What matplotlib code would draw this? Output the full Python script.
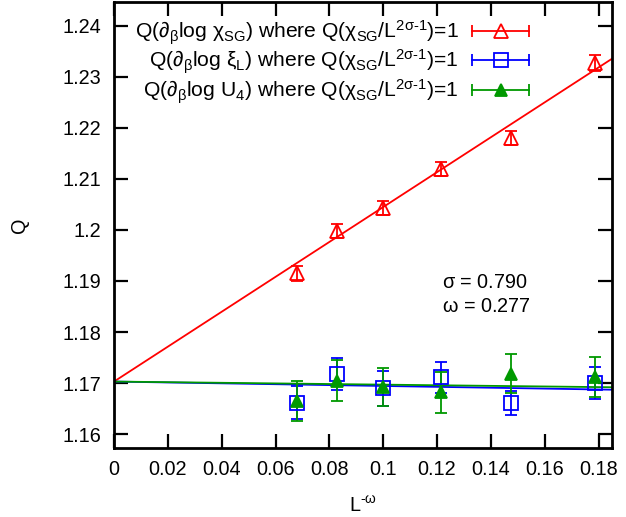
import matplotlib
matplotlib.use("Agg")
import matplotlib.pyplot as plt
from matplotlib.lines import Line2D
from matplotlib.legend_handler import HandlerLine2D, HandlerTuple
import numpy as np

plt.rcParams["font.family"] = ["Liberation Sans", "DejaVu Sans"]
plt.rcParams["mathtext.fontset"] = "custom"
plt.rcParams["mathtext.rm"] = "Liberation Sans"
plt.rcParams["mathtext.it"] = "Liberation Sans"
plt.rcParams["mathtext.sf"] = "Liberation Sans"
plt.rcParams["mathtext.bf"] = "Liberation Sans:bold"

# data
x = [0.0680, 0.0829, 0.1000, 0.1216, 0.1476, 0.1788]

q_chi = [1.1915, 1.1998, 1.2043, 1.2119, 1.2180, 1.2327]
q_chi_err = [0.0015, 0.0014, 0.0013, 0.0014, 0.0014, 0.0016]

q_xi = [1.1662, 1.1718, 1.1690, 1.1711, 1.1661, 1.1700]
q_xi_err = [0.0033, 0.0031, 0.0034, 0.0030, 0.0023, 0.0032]

q_u4 = [1.1665, 1.1705, 1.1692, 1.1682, 1.1718, 1.1712]
q_u4_err = [0.0039, 0.0040, 0.0037, 0.0040, 0.0038, 0.0039]

# fit lines (intercept, slope)
fit_chi = (1.1703, 0.3416)
fit_xi = (1.1703, -0.0086)
fit_u4 = (1.1703, -0.0060)

xlim = (0, 0.185)
ylim = (1.1573, 1.2446)

lab = r"where Q($\chi_{SG}$/L$^{2\sigma\text{-}1}$)=1"
labels = [r"Q($\partial_\beta$log $\chi_{SG}$) " + lab,
          r"Q($\partial_\beta$log $\xi_L$) " + lab,
          r"Q($\partial_\beta$log U$_4$) " + lab]

fig = plt.figure(figsize=(6.26, 5.17), dpi=100)
ax = fig.add_axes([0.1821, 0.1335, 0.7955, 0.8626])

fs = 14.3
xx = np.array(xlim)
series = [
    (q_chi, q_chi_err, fit_chi, "#ff0000", "^", "none", 10),
    (q_xi, q_xi_err, fit_xi, "#0000ff", "s", "none", 10),
    (q_u4, q_u4_err, fit_u4, "#009900", "^", "#009900", 8),
]
handles = []
hmap = {}
for (y, e, fit, c, m, mfc, ms) in series:
    ax.plot(xx, fit[0] + fit[1] * xx, color=c, lw=1.3, zorder=2)
    ax.errorbar(x, y, yerr=e, fmt=m, color=c, mfc=mfc, mec=c, ms=ms,
                mew=1.3, elinewidth=1.3, capsize=4, capthick=1.3, zorder=3)
    caps = Line2D([], [], color=c, lw=1.3, marker="|", ms=8, mew=1.3)
    mk = Line2D([], [], color=c, ls="none", marker=m, mfc=mfc, mec=c, ms=ms, mew=1.3)
    hmap[caps] = HandlerLine2D(numpoints=2, marker_pad=0)
    handles.append((caps, mk))

hmap[tuple] = HandlerTuple(ndivide=1, pad=0)
ax.legend(handles, labels, handler_map=hmap, markerfirst=False, frameon=False,
          loc="upper right", bbox_to_anchor=(0.855, 0.987), borderpad=0,
          handlelength=2.7, handletextpad=0.65, labelspacing=0.05, fontsize=15.2)

ax.text(0.1219, 1.1897, r"$\sigma$ = 0.790", fontsize=fs, va="center")
ax.text(0.1219, 1.1849, r"$\omega$ = 0.277", fontsize=fs, va="center")

ax.set_xlim(xlim)
ax.set_ylim(ylim)
ax.set_xticks(np.arange(0, 0.181, 0.02))
ax.set_xticklabels(["0", "0.02", "0.04", "0.06", "0.08", "0.1", "0.12", "0.14", "0.16", "0.18"])
ax.set_yticks(np.arange(1.16, 1.2401, 0.01))
ax.set_yticklabels(["1.16", "1.17", "1.18", "1.19", "1.2", "1.21", "1.22", "1.23", "1.24"])
ax.tick_params(direction="in", top=True, right=True, length=10, width=1.6,
               labelsize=fs, pad=9)
for s in ax.spines.values():
    s.set_linewidth(2)

ax.set_xlabel(r"L$^{\text{-}\omega}$", fontsize=fs, labelpad=12)
ax.set_ylabel("Q", fontsize=fs, labelpad=24)

fig.savefig("out.png", dpi=100)
